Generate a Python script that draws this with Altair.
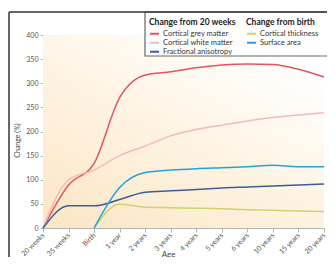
import altair as alt
import pandas as pd

ages = ["20 weeks", "35 weeks", "Birth", "1 year", "2 years", "3 years",
        "4 years", "5 years", "6 years", "10 years", "15 years", "20 years"]
grey_matter = [0, 89, 134, 270, 317, 324, 332, 338, 340, 339, 329, 313]
white_matter = [0, 100, 120, 150, 170, 191, 204, 213, 222, 229, 234, 239]
frac_aniso = [0, 46, 46, 59, 74, 77, 80, 83, 85, 87, 89, 91]
thickness = [None, None, 0, 49, 43, 42, 41, 40, 38, 37, 35, 34]
surface = [None, None, 0, 84, 115, 120, 123, 125, 127, 130, 127, 127]

series_a = ["Cortical grey matter", "Cortical white matter", "Fractional anisotropy"]
colors_a = ["#e3565f", "#f3b9b8", "#3d5c9c"]
series_b = ["Cortical thickness", "Surface area"]
colors_b = ["#cbd46c", "#1ea5de"]

W, H = 281, 193
FONT = "Lato"


def long(names, lists):
    rows = []
    for n, vals in zip(names, lists):
        for a, v in zip(ages, vals):
            if v is not None:
                rows.append({"series": n, "age": a, "value": v})
    return pd.DataFrame(rows)


df_a = long(series_a, [grey_matter, white_matter, frac_aniso])
df_b = long(series_b, [thickness, surface])

x_enc = alt.X("age:O", sort=ages,
              scale=alt.Scale(domain=ages, padding=0),
              axis=alt.Axis(title="Age", labelAngle=-45, labelAlign="right",
                            labelBaseline="middle", labelPadding=2, tickSize=4,
                            titleX=125, titleY=26, titleBaseline="middle",
                            titleAlign="center"))
y_enc = alt.Y("value:Q", scale=alt.Scale(domain=[0, 400], nice=False),
              axis=alt.Axis(title="Change (%)", values=list(range(0, 401, 50)),
                            tickSize=3, labelPadding=2, grid=False,
                            titleX=-26, titleY=105, titleAngle=-90,
                            titleFontSize=7,
                            titleAlign="center", titleBaseline="middle"))

one = pd.DataFrame({"k": [0]})

bg = alt.Chart(one).mark_rect(
    fill=alt.LinearGradient(
        gradient="linear",
        stops=[alt.GradientStop(color="#fbe5c4", offset=0),
               alt.GradientStop(color="#fef4e4", offset=0.55),
               alt.GradientStop(color="#ffffff", offset=1)],
        x1=0, y1=1, x2=0.75, y2=0)
).encode(x=alt.value(0), x2=alt.value(W), y=alt.value(0), y2=alt.value(H))

frame_v = alt.Chart(one).mark_rule(color="#333333", strokeWidth=1.5).encode(
    x=alt.value(-34), y=alt.value(-23), y2=alt.value(260))
frame_h = alt.Chart(one).mark_rule(color="#333333", strokeWidth=1.5).encode(
    x=alt.value(-34), x2=alt.value(320), y=alt.value(-23))

legend_box = alt.Chart(one).mark_rect(
    fill="#ffffff", stroke="#666666", strokeWidth=1.2
).encode(x=alt.value(102), x2=alt.value(320), y=alt.value(-23), y2=alt.value(21))

leg_common = dict(orient="none", direction="vertical", symbolType="stroke",
                  symbolSize=81, symbolStrokeWidth=2, padding=0, rowPadding=0,
                  clipHeight=8.7,
                  labelOffset=3, labelFontSize=7.5, labelFont=FONT, labelColor="#333333",
                  titleFontSize=8.5, titleFont=FONT, titleFontWeight="bold",
                  titleColor="#222222", titlePadding=3, labelLimit=200)

lines_a = alt.Chart(df_a).mark_line(interpolate="monotone", strokeWidth=1.5).encode(
    x=x_enc, y=y_enc,
    color=alt.Color("series:N",
                    scale=alt.Scale(domain=series_a, range=colors_a),
                    legend=alt.Legend(title="Change from 20 weeks", legendX=106,
                                      legendY=-17, **leg_common)))

lines_b = alt.Chart(df_b).mark_line(interpolate="monotone", strokeWidth=1.5).encode(
    x=x_enc, y=y_enc,
    color=alt.Color("series:N",
                    scale=alt.Scale(domain=series_b, range=colors_b),
                    legend=alt.Legend(title="Change from birth", legendX=203,
                                      legendY=-17, **leg_common)))

chart = alt.layer(bg, legend_box, frame_v, frame_h, lines_a, lines_b).resolve_scale(
    color="independent"
).properties(
    width=W, height=H,
    autosize=alt.AutoSizeParams(type="none"),
    padding={"left": 35, "top": 27, "right": 3, "bottom": 29},
    background="#ffffff",
).configure_view(stroke=None).configure_axis(
    domainColor="#b5b5b5", tickColor="#b5b5b5", labelColor="#555555",
    labelFontSize=7, labelFont=FONT, titleFont=FONT, titleFontSize=8,
    titleColor="#444444", titleFontWeight="normal", domainWidth=1
)

chart.save("out.html", embed_options={"renderer": "svg", "actions": False})
